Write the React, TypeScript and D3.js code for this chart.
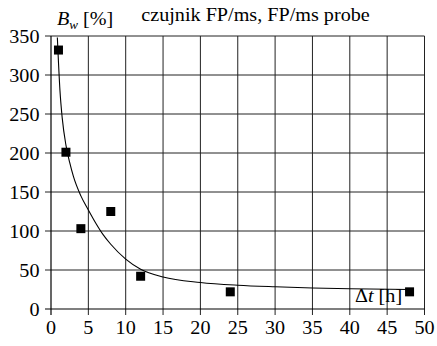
import * as d3 from "d3";

const W = 437;
const H = 346;

// measured points (Δt [h], B_w [%])
const hours = [1, 2, 4, 8, 12, 24, 48];
const bw = [332, 201, 103, 125, 42, 22, 22];

// trend curve
const trendX = [0.85, 1.2, 1.5, 2, 2.5, 3, 4, 5, 6, 7, 8, 10, 12, 15, 20, 25, 30, 35, 40, 48];
const trendY = [348, 280, 245, 210, 188, 170, 145, 127, 110, 95, 83, 64, 51, 41, 34, 30.5, 28.5, 27, 26, 25];

const xTicks = [0, 5, 10, 15, 20, 25, 30, 35, 40, 45, 50];
const yTicks = [0, 50, 100, 150, 200, 250, 300, 350];

const FONT = "Liberation Serif, Times New Roman, serif";
const SX = 1.09; // the source text is a little stretched sideways

function T({ x, y, anchor = "start", size = 18.5, children }: any) {
  return (
    <text
      transform={`translate(${x},${y}) scale(${SX},1)`}
      textAnchor={anchor}
      fontFamily={FONT}
      fontSize={size}
      fill="#000"
    >
      {children}
    </text>
  );
}

export default function App() {
  const x = d3.scaleLinear().domain([0, 50]).range([51, 424.5]);
  const y = d3.scaleLinear().domain([0, 350]).range([309, 36]);

  const line = d3
    .line<number>()
    .x((_, i) => x(trendX[i]))
    .y((d) => y(d))
    .curve(d3.curveMonotoneX);

  const x0 = x(0), x1 = x(50), y0 = y(0), y1 = y(350);

  return (
    <svg width={W} height={H} style={{ display: "block", position: "absolute", left: 0, top: 0, background: "#fff" }}>
      {/* grid */}
      {xTicks.slice(1).map((t) => (
        <line key={"vx" + t} x1={x(t)} x2={x(t)} y1={y1} y2={y0 + 6} stroke="#222" strokeWidth={1} />
      ))}
      {yTicks.slice(1).map((t) => (
        <line key={"hy" + t} x1={x0 - 6} x2={x1} y1={y(t)} y2={y(t)} stroke="#222" strokeWidth={1} />
      ))}
      {/* axes */}
      <line x1={x0} x2={x0} y1={y1} y2={y0 + 6} stroke="#000" strokeWidth={1.2} />
      <line x1={x0 - 6} x2={x1} y1={y0} y2={y0} stroke="#000" strokeWidth={1.2} />

      {/* tick labels */}
      {yTicks.map((t) => (
        <T key={"yl" + t} x={39.5} y={y(t) + 6.5} anchor="end">{t}</T>
      ))}
      {xTicks.map((t) => (
        <T key={"xl" + t} x={x(t)} y={334} anchor="middle">{t}</T>
      ))}

      {/* trend */}
      <path d={line(trendY) ?? ""} fill="none" stroke="#000" strokeWidth={1.1} />

      {/* points */}
      {hours.map((h, i) => (
        <rect key={"p" + i} x={x(h) - 4.5} y={y(bw[i]) - 4.5} width={9} height={9} fill="#000" />
      ))}

      {/* labels */}
      <T x={255.5} y={21} anchor="middle">czujnik FP/ms, FP/ms probe</T>
      <T x={57} y={25}>
        <tspan fontStyle="italic">B</tspan>
        <tspan fontStyle="italic" fontSize={12} dy={4}>w</tspan>
        <tspan dy={-4}> [%]</tspan>
      </T>
      <T x={355} y={302}>
        Δ<tspan fontStyle="italic">t</tspan> [h]
      </T>
    </svg>
  );
}
